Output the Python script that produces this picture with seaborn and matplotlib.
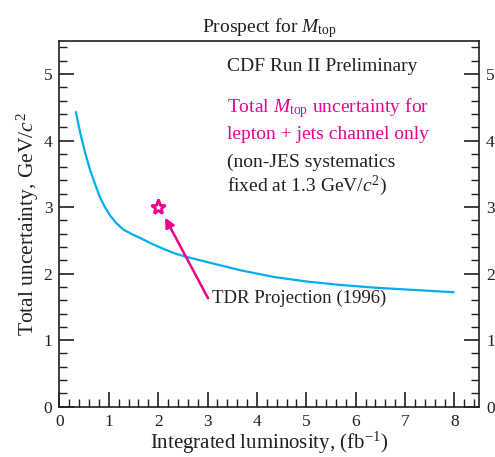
import matplotlib
matplotlib.use("Agg")
import matplotlib.pyplot as plt
import seaborn as sns
import pandas as pd
from matplotlib.ticker import MultipleLocator

# Data
lumi = [0.33, 0.42, 0.52, 0.62, 0.72, 0.82, 0.92, 1.03, 1.15, 1.30, 1.45, 1.65, 1.84,
        2.11, 2.35, 2.58, 3.12, 3.67, 4.34, 5.02, 5.69, 6.37, 7.05, 8.0]
uncert = [4.44, 4.12, 3.82, 3.56, 3.35, 3.15, 3.00, 2.87, 2.76, 2.66, 2.60, 2.53, 2.46,
          2.37, 2.30, 2.25, 2.15, 2.05, 1.95, 1.88, 1.83, 1.79, 1.76, 1.72]
tdr_lumi = [2.0]
tdr_uncert = [3.0]

sns.set_theme(style="ticks")
plt.rcParams['font.family'] = ['Liberation Serif', 'DejaVu Serif']
plt.rcParams['mathtext.fontset'] = 'custom'
plt.rcParams['mathtext.rm'] = 'Liberation Serif'
plt.rcParams['mathtext.it'] = 'Liberation Serif:italic'
plt.rcParams['mathtext.bf'] = 'Liberation Serif:bold'

TXT = '#231F20'
BLUE = '#00AEEF'
PINK = '#EC008C'

fig = plt.figure(figsize=(4.95, 4.57), dpi=100)
ax = fig.add_axes([0.120, 0.110, 0.848, 0.801])

df = pd.DataFrame({'lumi': lumi, 'uncert': uncert})
sns.lineplot(data=df, x='lumi', y='uncert', ax=ax, color=BLUE, lw=1.6,
             solid_joinstyle='round', solid_capstyle='butt')
ax.plot(tdr_lumi, tdr_uncert, marker='*', ms=11, mfc='white', mec=PINK, mew=2, ls='none')

ax.annotate('', xy=(2.14, 2.84), xytext=(3.01, 1.63),
            arrowprops=dict(arrowstyle='-|>', color=PINK, lw=1.8, mutation_scale=14, shrinkA=0, shrinkB=0))
ax.text(3.09, 1.63, 'TDR Projection (1996)', fontsize=13.5, color=TXT, ha='left', va='center')

ax.text(3.39, 5.11, 'CDF Run II Preliminary', fontsize=14, color=TXT, ha='left', va='center')
ax.text(3.39, 4.49, r'Total $M_{\mathrm{top}}$ uncertainty for', fontsize=14, color=PINK, ha='left', va='center')
ax.text(3.39, 4.09, 'lepton + jets channel only', fontsize=14, color=PINK, ha='left', va='center')
ax.text(3.39, 3.67, '(non-JES systematics', fontsize=14, color=TXT, ha='left', va='center')
ax.text(3.39, 3.32, r'fixed at 1.3 GeV/$c^{2}$)', fontsize=14, color=TXT, ha='left', va='center')

ax.set_xlim(0, 8.5)
ax.set_ylim(0, 5.5)
ax.xaxis.set_major_locator(MultipleLocator(1))
ax.xaxis.set_minor_locator(MultipleLocator(0.2))
ax.yaxis.set_major_locator(MultipleLocator(1))
ax.yaxis.set_minor_locator(MultipleLocator(0.2))
ax.tick_params(axis='both', which='major', direction='in', length=11, width=1.2, colors=TXT, labelsize=12.5, pad=5)
ax.tick_params(axis='both', which='minor', direction='in', length=6, width=1.0, colors=TXT)
ax.tick_params(axis='y', which='both', left=True, right=True, labelleft=True, labelright=True)
ax.tick_params(axis='x', which='both', top=False)
for s in ax.spines.values():
    s.set_visible(True)
    s.set_color(TXT)
    s.set_linewidth(1.2)

ax.set_xlabel(r'Integrated luminosity, (fb$^{-1}$)', fontsize=15, color=TXT, labelpad=0)
ax.set_ylabel(r'Total uncertainty, GeV/$c^{2}$', fontsize=15.5, color=TXT, labelpad=2)
ax.set_title(r'Prospect for $M_{\mathrm{top}}$', fontsize=14, color=TXT, pad=6)

fig.savefig('out.png', dpi=100)
